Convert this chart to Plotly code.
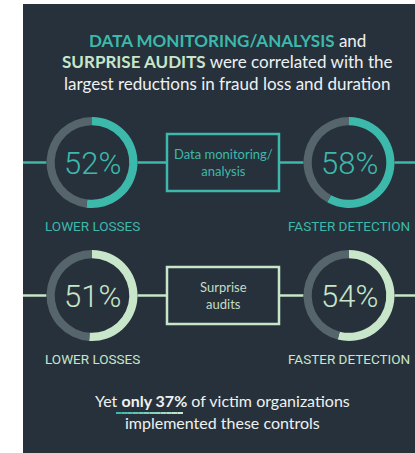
import plotly.graph_objects as go

# ---------------- data ----------------
controls = ["Data monitoring/<br>analysis", "Surprise<br>audits"]
lower_losses = [52, 51]          # % lower losses
faster_detection = [58, 54]      # % faster detection
metric_labels = ["LOWER LOSSES", "FASTER DETECTION"]
implemented_pct = 37

# ---------------- style ----------------
W, H = 415, 453
BG = "#27313b"
GRAY = "#56646b"
ACCENTS = ["#3cb9ab", "#c8e6c9"]
BOX_TEXT = ["#3cb9ab", "#c3dcc6"]
WHITE = "#eef1f2"
NUM_FONT = "Roboto, Liberation Sans Narrow, sans-serif"
TXT_FONT = "Lato, Open Sans, sans-serif"

def X(px):
    return px / W

def Y(py):
    return 1 - py / H

fig = go.Figure()
shapes = []
annotations = []

# dark panel
shapes.append(dict(type="rect", xref="paper", yref="paper",
                   x0=X(23), x1=X(W), y0=Y(H), y1=Y(4),
                   fillcolor=BG, line=dict(width=0), layer="below"))

R = 45.5
left_cx, right_cx = 92, 349
row_cy = [162.5, 295.5]
label_dy = 63
box_x0, box_x1 = 167, 279
box_half = 28.5

for i, name in enumerate(controls):
    cy = row_cy[i]
    acc = ACCENTS[i]
    # connecting lines
    for (a, b) in [(23, left_cx - R), (left_cx + R, box_x0),
                   (box_x1, right_cx - R), (right_cx + R, W)]:
        shapes.append(dict(type="line", xref="paper", yref="paper",
                           x0=X(a), x1=X(b), y0=Y(cy), y1=Y(cy),
                           line=dict(color=acc, width=2.5), layer="below"))
    # box
    shapes.append(dict(type="rect", xref="paper", yref="paper",
                       x0=X(box_x0), x1=X(box_x1),
                       y0=Y(cy + box_half), y1=Y(cy - box_half),
                       fillcolor=BG, line=dict(color=acc, width=2.5),
                       layer="below"))
    annotations.append(dict(xref="paper", yref="paper",
                            x=X((box_x0 + box_x1) / 2), y=Y(cy),
                            text=name, showarrow=False,
                            font=dict(family=TXT_FONT, size=13, color=BOX_TEXT[i]),
                            align="center", xanchor="center", yanchor="middle"))
    # donuts
    for cx, val, lab in [(left_cx, lower_losses[i], metric_labels[0]),
                         (right_cx, faster_detection[i], metric_labels[1])]:
        fig.add_trace(go.Pie(
            values=[val, 100 - val],
            marker=dict(colors=[acc, GRAY], line=dict(width=0)),
            hole=0.82, sort=False, direction="clockwise", rotation=0,
            textinfo="none", hoverinfo="skip", showlegend=False,
            domain=dict(x=[X(cx - R), X(cx + R)], y=[Y(cy + R), Y(cy - R)]),
        ))
        annotations.append(dict(xref="paper", yref="paper", x=X(cx), y=Y(cy + 1),
                                text=f"{val}%", showarrow=False,
                                font=dict(family=NUM_FONT, size=31, color=acc, weight=300),
                                xanchor="center", yanchor="middle"))
        annotations.append(dict(xref="paper", yref="paper", x=X(cx),
                                y=Y(cy + label_dy), text=lab, showarrow=False,
                                font=dict(family=NUM_FONT, size=13.5, color=acc, weight=400),
                                xanchor="center", yanchor="middle"))

# title
title_lines = [
    f"<b><span style='color:{ACCENTS[0]}'>DATA MONITORING/ANALYSIS</span></b> and",
    f"<b><span style='color:{ACCENTS[1]}'>SURPRISE AUDITS</span></b> were correlated with the",
    "largest reductions in fraud loss and duration",
]
for k, (line, py) in enumerate(zip(title_lines, [40, 61.5, 83])):
    annotations.append(dict(xref="paper", yref="paper", x=X(227), y=Y(py),
                            text=line, showarrow=False,
                            font=dict(family=TXT_FONT, size=17, color=WHITE),
                            xanchor="center", yanchor="middle"))

# bottom statement
annotations.append(dict(xref="paper", yref="paper", x=X(222), y=Y(400),
                        text=f"Yet <b>only {implemented_pct}%</b> of victim organizations",
                        showarrow=False,
                        font=dict(family=TXT_FONT, size=16, color=WHITE),
                        xanchor="center", yanchor="middle"))
annotations.append(dict(xref="paper", yref="paper", x=X(222), y=Y(422),
                        text="implemented these controls", showarrow=False,
                        font=dict(family=TXT_FONT, size=16, color=WHITE),
                        xanchor="center", yanchor="middle"))

# gradient underline (teal -> light green)
def mix(c1, c2, t):
    a = [int(c1[j:j + 2], 16) for j in (1, 3, 5)]
    b = [int(c2[j:j + 2], 16) for j in (1, 3, 5)]
    return "#" + "".join(f"{round(a[j] + (b[j] - a[j]) * t):02x}" for j in range(3))

u0, u1, uy, n = 116, 183, 413, 12
for s in range(n):
    xa = u0 + (u1 - u0) * s / n
    xb = u0 + (u1 - u0) * (s + 1) / n
    shapes.append(dict(type="line", xref="paper", yref="paper",
                       x0=X(xa), x1=X(xb), y0=Y(uy), y1=Y(uy),
                       line=dict(color=mix(ACCENTS[0], ACCENTS[1], s / (n - 1)), width=2)))

fig.update_layout(
    width=W, height=H,
    margin=dict(l=0, r=0, t=0, b=0),
    paper_bgcolor="white", plot_bgcolor="white",
    shapes=shapes, annotations=annotations,
    showlegend=False,
)

fig.write_html("out.html", config={"displayModeBar": False},
               post_script="document.body.style.margin='0';document.body.style.overflow='hidden';")
